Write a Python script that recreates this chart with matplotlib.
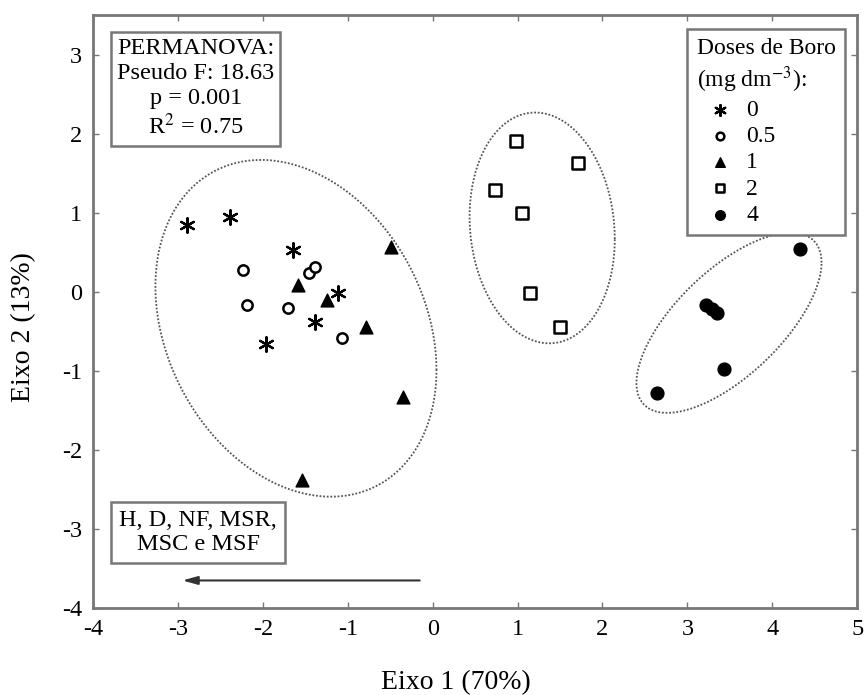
import numpy as np
import matplotlib
matplotlib.use("Agg")
import matplotlib.pyplot as plt

plt.rcParams['font.family'] = ['Liberation Serif', 'DejaVu Serif']
plt.rcParams['mathtext.fontset'] = 'stix'
plt.rcParams['axes.unicode_minus'] = False

# Data
dose_labels = ["0", "0.5", "1", "2", "4"]
x_d0 = [-2.89, -2.39, -1.65, -1.11, -1.38, -1.96]
y_d0 = [0.85, 0.95, 0.53, -0.01, -0.38, -0.66]
x_d05 = [-2.23, -2.19, -1.70, -1.46, -1.39, -1.07]
y_d05 = [0.28, -0.16, -0.20, 0.24, 0.32, -0.58]
x_d1 = [-0.49, -1.58, -1.25, -0.79, -0.35, -1.54]
y_d1 = [0.57, 0.09, -0.10, -0.44, -1.33, -2.38]
x_d2 = [0.98, 1.71, 0.73, 1.05, 1.15, 1.50]
y_d2 = [1.91, 1.63, 1.29, 1.00, -0.01, -0.44]
x_d4 = [4.33, 3.22, 3.29, 3.35, 3.43, 2.64]
y_d4 = [0.54, -0.16, -0.22, -0.27, -0.98, -1.28]

# Ellipses: center x, center y, half-width x, half-height y, cross term
ell_cx = [-1.61, 1.29, 3.49]
ell_cy = [-0.46, 0.81, -0.39]
ell_wx = [1.655, 0.855, 1.09]
ell_wy = [2.13, 1.46, 1.14]
ell_c = [-0.877, -0.12, 0.83]

xticks = [-4, -3, -2, -1, 0, 1, 2, 3, 4, 5]
yticks = [-4, -3, -2, -1, 0, 1, 2, 3]

fig = plt.figure(figsize=(8.65, 6.95), dpi=100)
ax = fig.add_axes([0.1075, 0.125, 0.8835, 0.853])

FS = 17.5
gray = '#777777'

# ellipses
t = np.linspace(0, 2 * np.pi, 400)
for cx, cy, wx, wy, c in zip(ell_cx, ell_cy, ell_wx, ell_wy, ell_c):
    ex = cx + wx * np.cos(t)
    ey = cy + (c / wx) * np.cos(t) + np.sqrt(wy ** 2 - (c / wx) ** 2) * np.sin(t)
    ax.plot(ex, ey, color='#555555', lw=1.3, linestyle=(0, (1, 1)), zorder=1)

ax.scatter(x_d0, y_d0, marker=(6, 2, 0), s=110, color='black', linewidths=1.6, zorder=3, label=dose_labels[0])
ax.scatter(x_d05, y_d05, marker='o', s=55, facecolors='white', edgecolors='black', linewidths=1.8, zorder=3, label=dose_labels[1])
ax.scatter(x_d1, y_d1, marker='^', s=85, color='black', zorder=3, label=dose_labels[2])
ax.scatter(x_d2, y_d2, marker='s', s=65, facecolors='white', edgecolors='black', linewidths=1.8, zorder=3, label=dose_labels[3])
ax.scatter(x_d4, y_d4, marker='o', s=85, color='black', zorder=3, label=dose_labels[4])

ax.set_xlim(-4, 5)
ax.set_ylim(-4, 3.5)
ax.set_xticks(xticks)
ax.set_yticks(yticks)
ax.tick_params(direction='in', top=True, right=True, length=4, width=1, color=gray,
               labelsize=FS, pad=8)
for sp in ax.spines.values():
    sp.set_color(gray)
    sp.set_linewidth(2)

ax.set_xlabel('Eixo 1 (70%)', fontsize=20)
ax.set_ylabel('Eixo 2 (13%)', fontsize=20)
ax.xaxis.set_label_coords(0.475, -0.105)
ax.yaxis.set_label_coords(-0.075, 0.474)

# PERMANOVA box
ax.text(-2.79, 2.57, 'PERMANOVA:\nPseudo F: 18.63\np = 0.001\nR$^2$ = 0.75',
        ha='center', va='center', fontsize=FS, linespacing=1.25,
        bbox=dict(boxstyle='square,pad=0.25', facecolor='white', edgecolor=gray, linewidth=1.8), zorder=4)

# Variables box and arrow
ax.text(-2.76, -3.04, 'H, D, NF, MSR,\nMSC e MSF', ha='center', va='center', fontsize=FS,
        linespacing=1.2,
        bbox=dict(boxstyle='square,pad=0.33', facecolor='white', edgecolor=gray, linewidth=1.8), zorder=4)
ax.annotate('', xy=(-2.98, -3.65), xytext=(-0.12, -3.65),
            arrowprops=dict(arrowstyle='-|>,head_length=0.9,head_width=0.25', color='#333333', lw=1.5))

# Legend
leg = ax.legend(title='Doses de Boro\n(mg dm$^{-3}$):', loc='upper right',
                bbox_to_anchor=(0.984, 0.977), borderaxespad=0, fontsize=FS - 0.5,
                title_fontsize=FS - 0.5, framealpha=1,
                frameon=True, fancybox=False, edgecolor=gray, handletextpad=0.1,
                labelspacing=0.2, borderpad=0.4, alignment='left', markerscale=0.75)
leg.get_frame().set_linewidth(1.8)
leg.get_title().set_linespacing(1.2)

fig.savefig('out.png', dpi=100)
